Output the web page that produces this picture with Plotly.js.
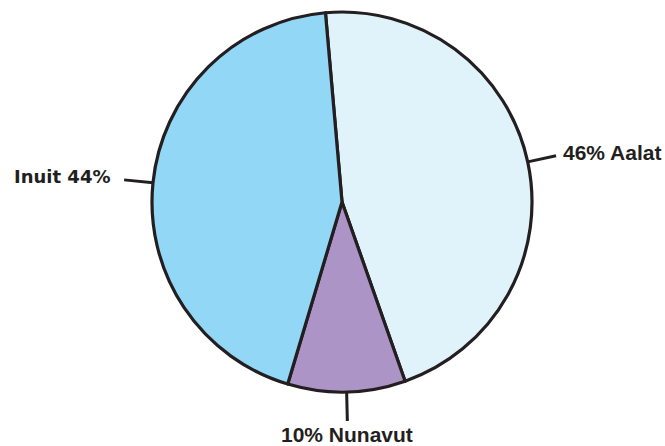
<!DOCTYPE html>
<html>
<head>
<meta charset="utf-8">
<script src="https://cdn.plot.ly/plotly-3.0.1.min.js"></script>
<style>html,body{margin:0;padding:0;background:#fff;}#chart{width:665px;height:446px;}</style>
</head>
<body>
<div id="chart"></div>
<script>
const labels = ["Aalat", "Nunavut", "Inuit"];
const values = [46, 10, 44];
const colors = ["#e0f3fb", "#ad94c6", "#92d8f6"];
const labelTexts = ["46% Aalat", "10% Nunavut", "Inuit 44%"];

const W = 665, H = 446;
const cx = 342, cy = 202, R = 190;
const rotation = -5;

const trace = {
  type: "pie",
  labels: labels,
  values: values,
  sort: false,
  direction: "clockwise",
  rotation: rotation,
  marker: {colors: colors, line: {color: "#231f20", width: 3.2}},
  textinfo: "none",
  hoverinfo: "label+percent",
  showlegend: false,
  domain: {x: [(cx - R) / W, (cx + R) / W], y: [(H - cy - R) / H, (H - cy + R) / H]}
};

const total = values.reduce((a, b) => a + b, 0);
const shapes = [], annotations = [];
let acc = 0;
const px = x => x / W, py = y => 1 - y / H;
const fonts = [
  {family: "Liberation Sans, Arial, sans-serif", size: 21, color: "#231f20"},
  {family: "Liberation Sans, Arial, sans-serif", size: 21, color: "#231f20"},
  {family: "DejaVu Sans, sans-serif", size: 18, color: "#231f20"}
];
values.forEach((v, i) => {
  const mid = (rotation + (acc + v / 2) / total * 360) * Math.PI / 180;
  acc += v;
  const sx = Math.sin(mid), sy = -Math.cos(mid);
  const r0 = R, r1 = R + 29;
  const x0 = cx + r0 * sx, y0 = cy + r0 * sy, x1 = cx + r1 * sx, y1 = cy + r1 * sy;
  shapes.push({type: "line", xref: "paper", yref: "paper", x0: px(x0), y0: py(y0), x1: px(x1), y1: py(y1),
    line: {color: "#231f20", width: 3}});
  let ax, ay, xa, ya;
  if (Math.abs(sx) > 0.5) {
    ax = sx > 0 ? x1 + 5 : x1 - 12; ay = y1 - 3; xa = sx > 0 ? "left" : "right"; ya = "middle";
  } else {
    ax = x1; ay = y1; xa = "center"; ya = "top";
  }
  annotations.push({xref: "paper", yref: "paper", x: px(ax), y: py(ay), xanchor: xa, yanchor: ya,
    text: "<b>" + labelTexts[i] + "</b>", showarrow: false, font: fonts[i]});
});

const layout = {
  width: W, height: H,
  margin: {l: 0, r: 0, t: 0, b: 0},
  paper_bgcolor: "#ffffff",
  shapes: shapes,
  annotations: annotations
};
Plotly.newPlot("chart", [trace], layout, {displayModeBar: false, staticPlot: true});
</script>
</body>
</html>
